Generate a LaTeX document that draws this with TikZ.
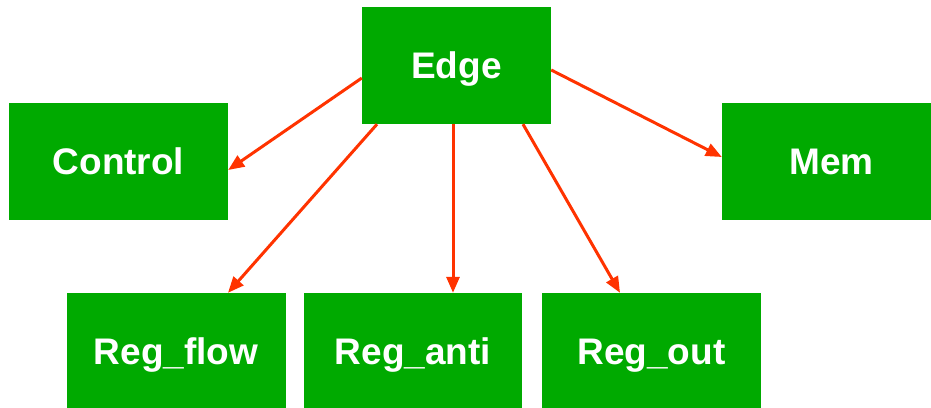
\documentclass[tikz,border=0pt]{standalone}
\usepackage{fontspec}
\setmainfont{Liberation Sans}
\usetikzlibrary{arrows.meta}
\definecolor{boxgreen}{HTML}{00AA00}
\definecolor{linkred}{HTML}{FF3300}
\begin{document}
\begin{tikzpicture}[x=1pt,y=-1pt,
  unit/.style={fill=boxgreen, draw=none, minimum width=219pt, minimum height=117pt,
    inner sep=0pt, text=white, text height=26.6pt, text depth=0pt,
    font=\fontsize{37}{40}\selectfont\bfseries},
  link/.style={draw=linkred, line width=3pt, -{Triangle[length=16pt,width=13pt]}}]
  \useasboundingbox (0,0) rectangle (931,407);
  \clip (0,0) rectangle (931,407);
  % boxes
  \node[unit, minimum width=189pt] (edge) at (456.5,65.5) {Edge};
  \node[unit] (control) at (118.5,161.5) {Control};
  \node[unit] (mem) at (831.5,161.5) {Mem};
  \node[unit] (regflow) at (176,351.5) {Reg\_flow};
  \node[unit, minimum width=218pt] (reganti) at (413,351.5) {Reg\_anti};
  \node[unit] (regout) at (651.5,351.5) {Reg\_out};
  % dependencies
  \draw[link] ([yshift=-12.5pt]edge.west) -- ([yshift=-8.5pt]control.east);
  \draw[link] ([yshift=-4.5pt]edge.east) -- ([yshift=4.5pt]mem.west);
  \draw[link] ([xshift=-79.5pt]edge.south) -- ([xshift=52pt]regflow.north);
  \draw[link] ([xshift=-3.5pt]edge.south) -- ([xshift=40pt]reganti.north);
  \draw[link] ([xshift=66.5pt]edge.south) -- ([xshift=-31.5pt]regout.north);
\end{tikzpicture}
\end{document}
